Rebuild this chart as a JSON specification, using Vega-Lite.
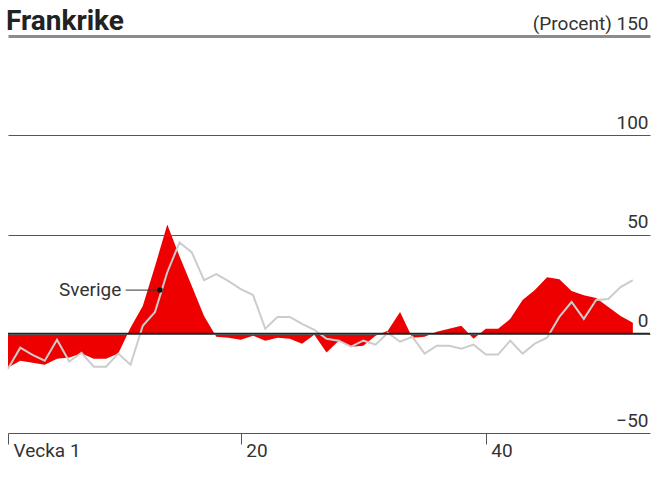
{
  "$schema": "https://vega.github.io/schema/vega-lite/v6.json",
  "width": 642,
  "height": 397,
  "autosize": {"type": "none"},
  "padding": {"left": 8, "top": 36, "right": 14, "bottom": 46},
  "background": "white",
  "title": {
    "text": "Frankrike",
    "anchor": "start",
    "frame": "group",
    "dx": -2,
    "offset": -22,
    "fontSize": 28,
    "font": "Roboto",
    "fontWeight": "bold",
    "color": "#222222"
  },
  "config": {"view": {"stroke": null}, "font": "Roboto"},
  "datasets": {
    "frankrike": [
      {"vecka": 1, "varde": -17}, {"vecka": 2, "varde": -13.6}, {"vecka": 3, "varde": -14.6}, {"vecka": 4, "varde": -15.6},
      {"vecka": 5, "varde": -12.6}, {"vecka": 6, "varde": -12}, {"vecka": 7, "varde": -10}, {"vecka": 8, "varde": -12.6},
      {"vecka": 9, "varde": -12.6}, {"vecka": 10, "varde": -10}, {"vecka": 11, "varde": 3}, {"vecka": 12, "varde": 14},
      {"vecka": 13, "varde": 34}, {"vecka": 14, "varde": 55}, {"vecka": 15, "varde": 39}, {"vecka": 16, "varde": 24},
      {"vecka": 17, "varde": 9}, {"vecka": 18, "varde": -1.5}, {"vecka": 19, "varde": -2}, {"vecka": 20, "varde": -3},
      {"vecka": 21, "varde": -1}, {"vecka": 22, "varde": -3.5}, {"vecka": 23, "varde": -2}, {"vecka": 24, "varde": -2.5},
      {"vecka": 25, "varde": -5}, {"vecka": 26, "varde": -0.5}, {"vecka": 27, "varde": -9.5}, {"vecka": 28, "varde": -3.5},
      {"vecka": 29, "varde": -6.5}, {"vecka": 30, "varde": -6}, {"vecka": 31, "varde": -1}, {"vecka": 32, "varde": 1.5},
      {"vecka": 33, "varde": 11}, {"vecka": 34, "varde": -2}, {"vecka": 35, "varde": -1.5}, {"vecka": 36, "varde": 1},
      {"vecka": 37, "varde": 2.5}, {"vecka": 38, "varde": 4}, {"vecka": 39, "varde": -2.5}, {"vecka": 40, "varde": 2.5},
      {"vecka": 41, "varde": 2.5}, {"vecka": 42, "varde": 7.5}, {"vecka": 43, "varde": 17}, {"vecka": 44, "varde": 22},
      {"vecka": 45, "varde": 28.5}, {"vecka": 46, "varde": 27.5}, {"vecka": 47, "varde": 21.5}, {"vecka": 48, "varde": 19.4},
      {"vecka": 49, "varde": 18}, {"vecka": 50, "varde": 13.5}, {"vecka": 51, "varde": 9}, {"vecka": 52, "varde": 5.5}
    ],
    "sverige": [
      {"vecka": 1, "varde": -17.6}, {"vecka": 2, "varde": -7}, {"vecka": 3, "varde": -10.6}, {"vecka": 4, "varde": -13.6},
      {"vecka": 5, "varde": -3}, {"vecka": 6, "varde": -14}, {"vecka": 7, "varde": -9.6}, {"vecka": 8, "varde": -16.6},
      {"vecka": 9, "varde": -16.6}, {"vecka": 10, "varde": -10}, {"vecka": 11, "varde": -15.6}, {"vecka": 12, "varde": 4},
      {"vecka": 13, "varde": 11}, {"vecka": 14, "varde": 31}, {"vecka": 15, "varde": 46}, {"vecka": 16, "varde": 41},
      {"vecka": 17, "varde": 27}, {"vecka": 18, "varde": 30}, {"vecka": 19, "varde": 26.5}, {"vecka": 20, "varde": 22.5},
      {"vecka": 21, "varde": 19.5}, {"vecka": 22, "varde": 2.5}, {"vecka": 23, "varde": 8.5}, {"vecka": 24, "varde": 8.5},
      {"vecka": 25, "varde": 5}, {"vecka": 26, "varde": 2}, {"vecka": 27, "varde": -2.5}, {"vecka": 28, "varde": -3.5},
      {"vecka": 29, "varde": -6.5}, {"vecka": 30, "varde": -3.5}, {"vecka": 31, "varde": -5.5}, {"vecka": 32, "varde": 0.5},
      {"vecka": 33, "varde": -4}, {"vecka": 34, "varde": -1.5}, {"vecka": 35, "varde": -10}, {"vecka": 36, "varde": -6},
      {"vecka": 37, "varde": -6}, {"vecka": 38, "varde": -7.5}, {"vecka": 39, "varde": -5.5}, {"vecka": 40, "varde": -10.5},
      {"vecka": 41, "varde": -10.5}, {"vecka": 42, "varde": -3.5}, {"vecka": 43, "varde": -10}, {"vecka": 44, "varde": -5},
      {"vecka": 45, "varde": -2}, {"vecka": 46, "varde": 8.5}, {"vecka": 47, "varde": 16}, {"vecka": 48, "varde": 7.5},
      {"vecka": 49, "varde": 17}, {"vecka": 50, "varde": 17.5}, {"vecka": 51, "varde": 23.5}, {"vecka": 52, "varde": 27}
    ],
    "etikett": [
      {"vecka": 13.4, "varde": 22, "fran": 10.6, "textvecka": 10.25, "text": "Sverige"}
    ]
  },
  "layer": [
    {
      "data": {"name": "frankrike"},
      "mark": {"type": "area", "color": "#ee0000", "opacity": 1},
      "encoding": {
        "x": {
          "field": "vecka", "type": "quantitative",
          "scale": {"domain": [1, 53.4], "nice": false, "zero": false},
          "axis": {
            "orient": "bottom", "values": [1, 20, 40], "grid": false, "domain": false,
            "ticks": true, "tickSize": 11, "tickColor": "#555555", "tickWidth": 1,
            "labelAlign": "left", "labelOffset": 5, "labelBaseline": "alphabetic", "labelPadding": 12,
            "labelFlush": false, "labelOverlap": false,
            "labelFontSize": 19, "labelColor": "#333333", "title": null,
            "labelExpr": "datum.value == 1 ? 'Vecka 1' : datum.label"
          }
        },
        "y": {
          "field": "varde", "type": "quantitative",
          "scale": {"domain": [-50, 150], "nice": false},
          "axis": {
            "orient": "right", "values": [-50, 0, 50, 100, 150], "grid": true,
            "gridColor": {"condition": {"test": "datum.value == 150", "value": "#8c8c8c"}, "value": "#555555"},
            "gridWidth": {"condition": {"test": "datum.value == 150", "value": 3}, "value": 1},
            "ticks": false, "domain": false, "labelAlign": "right", "labelPadding": -2,
            "labelBaseline": "alphabetic", "labelOffset": -7, "labelFlush": false, "labelOverlap": false,
            "labelFontSize": 19, "labelColor": "#333333",
            "title": null, "zindex": 1,
            "labelExpr": "datum.value == 150 ? '(Procent) 150' : datum.label"
          }
        }
      }
    },
    {
      "data": {"name": "sverige"},
      "mark": {"type": "line", "color": "#cccccc", "strokeWidth": 2},
      "encoding": {
        "x": {"field": "vecka", "type": "quantitative"},
        "y": {"field": "varde", "type": "quantitative"}
      }
    },
    {
      "data": {"values": [{"noll": 0}]},
      "mark": {"type": "rule", "color": "#222222", "strokeWidth": 2},
      "encoding": {"y": {"field": "noll", "type": "quantitative"}}
    },
    {
      "data": {"name": "etikett"},
      "mark": {"type": "rule", "color": "#333333", "strokeWidth": 1},
      "encoding": {
        "x": {"field": "fran", "type": "quantitative"},
        "x2": {"field": "vecka"},
        "y": {"field": "varde", "type": "quantitative"}
      }
    },
    {
      "data": {"name": "etikett"},
      "mark": {"type": "point", "filled": true, "color": "#111111", "size": 30, "opacity": 1},
      "encoding": {
        "x": {"field": "vecka", "type": "quantitative"},
        "y": {"field": "varde", "type": "quantitative"}
      }
    },
    {
      "data": {"name": "etikett"},
      "mark": {"type": "text", "align": "right", "baseline": "middle", "fontSize": 19, "color": "#333333"},
      "encoding": {
        "x": {"field": "textvecka", "type": "quantitative"},
        "y": {"field": "varde", "type": "quantitative"},
        "text": {"field": "text"}
      }
    }
  ]
}
